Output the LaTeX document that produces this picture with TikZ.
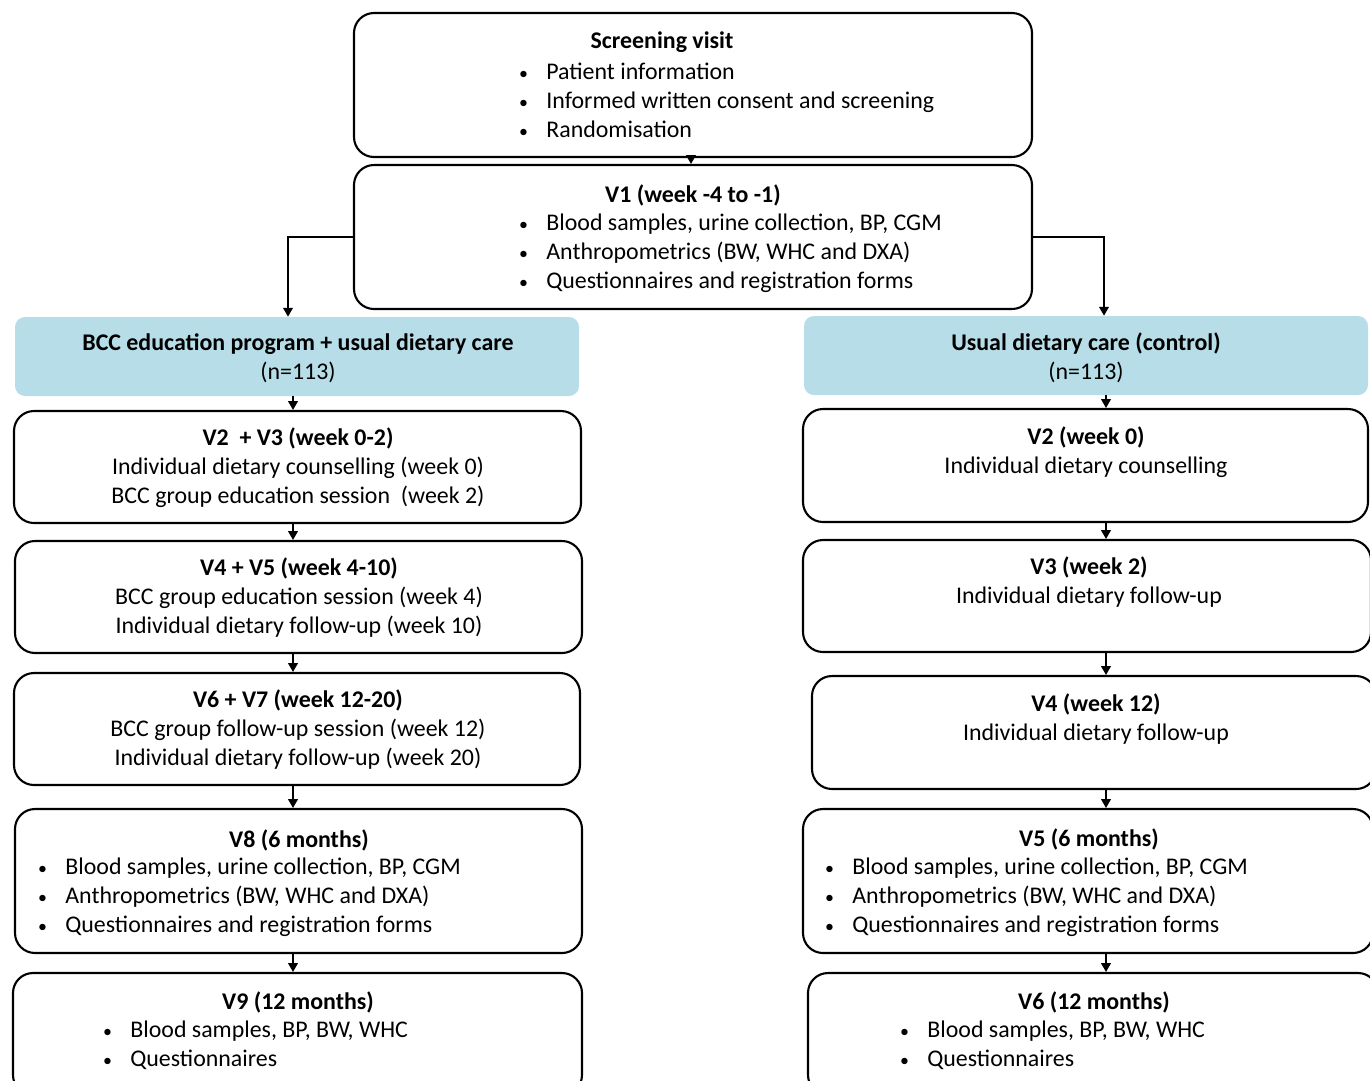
\documentclass[tikz,border=0pt]{standalone}
\usepackage{fontspec}
\setmainfont{Carlito}
\usepackage{xcolor}
\usetikzlibrary{arrows.meta, positioning, fit}
\definecolor{myblue}{RGB}{183, 222, 232}
\newcommand{\bul}{\makebox[0.56cm][l]{\hspace{0.5pt}\scalebox{0.75}{\textbullet}}}
\newcommand{\boxfont}{\fontsize{13.6}{16.5}\selectfont}

\tikzset{
  box/.style={draw, line width=1.2pt, rounded corners=0.4cm, inner sep=0pt},
  headbox/.style={fill=myblue, rounded corners=0.2cm, inner sep=0pt},
  txt/.style={font=\boxfont, align=center, inner sep=0pt},
  lst/.style={font=\boxfont, align=left, anchor=west, inner sep=0pt},
  arr/.style={-{Triangle[length=5pt,width=5.5pt]}, line width=0.85pt}
}

\begin{document}
\begin{tikzpicture}[x=0.02cm, y=-0.02cm]
        \useasboundingbox (0,0) rectangle (1370,1080);
        \clip (0,0) rectangle (1370,1080);
        % top part
        \node[box, fit={(354,13) (1032,157)}] (scr) {};
        \node[txt] (scrT) at (662,42) {\textbf{Screening visit}};
        \node[lst] (scrL) at (518,100) {\bul Patient information\\
          \bul Informed written consent and screening\\ \bul Randomisation};
        \node[box, fit={(354,165) (1032,309)}] (v1) {};
        \node[txt] (v1T) at (693,195) {\textbf{V1 (week -4 to -1)}};
        \node[lst] (v1L) at (518,253) {\bul Blood samples, urine collection, BP, CGM\\
          \bul Anthropometrics (BW, WHC and DXA)\\ \bul Questionnaires and registration forms};
        % group headers
        \node[headbox, fit={(15,317) (579,396)}] (bccH) {};
        \node[txt] (bccT) at (298,358) {\textbf{BCC education program + usual dietary care}\\(n=113)};
        \node[headbox, fit={(804,316) (1368,395)}] (ctlH) {};
        \node[txt] (ctlT) at (1086,358) {\textbf{Usual dietary care (control)}\\(n=113)};
        % BCC arm
        \node[box, fit={(14,411) (581,523)}] (bV23) {};
        \node[txt] (bV23T) at (298,468) {\textbf{V2~ + V3 (week 0-2)}\\
          Individual dietary counselling (week 0)\\ BCC group education session~ (week 2)};
        \node[box, fit={(15,541) (582,653)}] (bV45) {};
        \node[txt] (bV45T) at (299,598) {\textbf{V4 + V5 (week 4-10)}\\
          BCC group education session (week 4)\\ Individual dietary follow-up (week 10)};
        \node[box, fit={(14,673) (580,785)}] (bV67) {};
        \node[txt] (bV67T) at (298,730) {\textbf{V6 + V7 (week 12-20)}\\
          BCC group follow-up session (week 12)\\ Individual dietary follow-up (week 20)};
        \node[box, fit={(15,809) (582,953)}] (bV8) {};
        \node[txt] (bV8T) at (299,840) {\textbf{V8 (6 months)}};
        \node[lst] (bV8L) at (37,897) {\bul Blood samples, urine collection, BP, CGM\\
          \bul Anthropometrics (BW, WHC and DXA)\\ \bul Questionnaires and registration forms};
        \node[box, fit={(13,973) (582,1095)}] (bV9) {};
        \node[txt] (bV9T) at (298,1002) {\textbf{V9 (12 months)}};
        \node[lst] (bV9L) at (102,1045.5) {\bul Blood samples, BP, BW, WHC\\ \bul Questionnaires};
        % control arm
        \node[box, fit={(803,409) (1368,522)}] (cV2) {};
        \node[txt] (cV2T) at (1086,452.5) {\textbf{V2 (week 0)}\\ Individual dietary counselling};
        \node[box, fit={(803,540) (1371,652)}] (cV3) {};
        \node[txt] (cV3T) at (1089,582.5) {\textbf{V3 (week 2)}\\ Individual dietary follow-up};
        \node[box, fit={(812,676) (1376,789)}] (cV4) {};
        \node[txt] (cV4T) at (1096,719.5) {\textbf{V4 (week 12)}\\ Individual dietary follow-up};
        \node[box, fit={(803,809) (1373,953)}] (cV5) {};
        \node[txt] (cV5T) at (1089,839) {\textbf{V5 (6 months)}};
        \node[lst] (cV5L) at (824,897) {\bul Blood samples, urine collection, BP, CGM\\
          \bul Anthropometrics (BW, WHC and DXA)\\ \bul Questionnaires and registration forms};
        \node[box, fit={(808,973) (1378,1095)}] (cV6) {};
        \node[txt] (cV6T) at (1094,1002) {\textbf{V6 (12 months)}};
        \node[lst] (cV6L) at (899,1045.5) {\bul Blood samples, BP, BW, WHC\\ \bul Questionnaires};
        % connectors
        \coordinate (lsplit) at (288,0);
        \coordinate (rsplit) at (1104,0);
        \coordinate (lx) at (293,0);
        \coordinate (rx) at (1106,0);
        \draw[arr] (scr.south -| 691,0) -- (v1.north -| 691,0);
        \draw[arr] (v1.west) -| (bccH.north -| lsplit);
        \draw[arr] (v1.east) -| (ctlH.north -| rsplit);
        \foreach \a/\b in {bccH/bV23, bV23/bV45, bV45/bV67, bV67/bV8, bV8/bV9}
          \draw[arr] (\a.south -| lx) -- (\b.north -| lx);
        \foreach \a/\b in {ctlH/cV2, cV2/cV3, cV3/cV4, cV4/cV5, cV5/cV6}
          \draw[arr] (\a.south -| rx) -- (\b.north -| rx);
      \end{tikzpicture}
\end{document}
